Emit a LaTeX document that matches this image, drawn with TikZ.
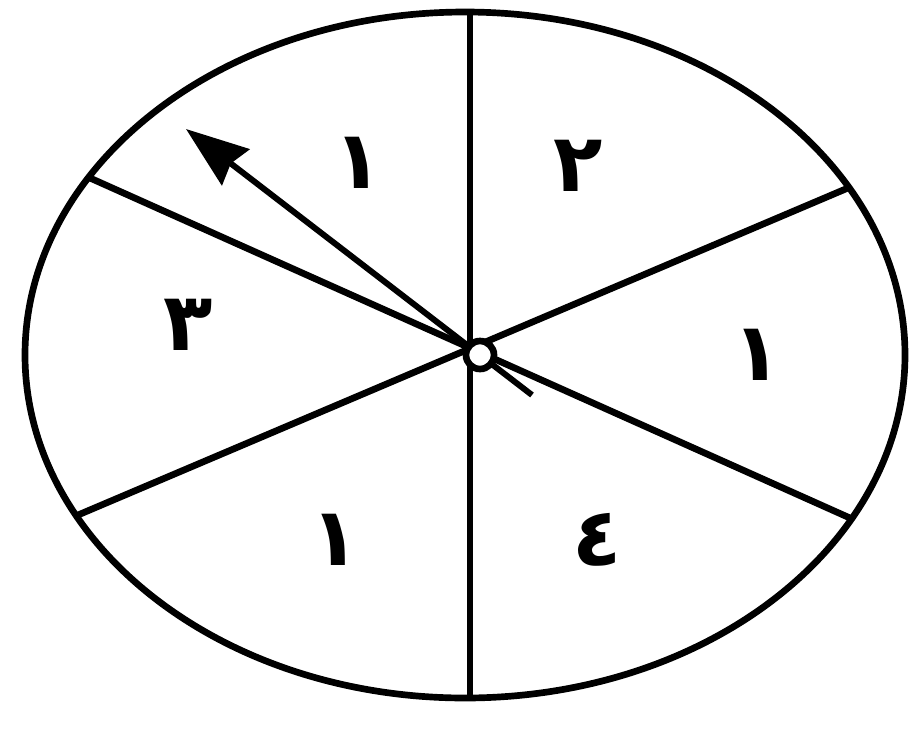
\documentclass[tikz,border=0pt]{standalone}
\usepackage{fontspec}
\usepackage{tikz}
\usetikzlibrary{arrows.meta}
\newfontfamily\arabicfont[Script=Arabic]{DejaVu Sans}
\TeXXeTstate=1

\begin{document}
\begin{tikzpicture}[x=0.02cm, y=-0.02cm, line width=3.8pt,
    every node/.style={font=\arabicfont\bfseries\fontsize{46}{46}\selectfont, inner sep=0pt}]
				\useasboundingbox (0,0) rectangle (914,728);
				\coordinate (hub) at (480,355);
				\draw (465,355) ellipse [x radius=440, y radius=343];

				% spokes
				\draw (470,12) -- (470,698);
				\draw (90,178) -- (850,518);
				\draw (78,515) -- (848,188);

				% pointer
				\coordinate (tail) at (532,395);
				\coordinate (tip) at (186,129);
				\draw[line width=3.4pt, -{Stealth[length=1.25cm, width=0.9cm, inset=0.12cm]}] (tail) -- (tip);
				\draw[fill=white] (hub) circle [radius=14];

				\node (top1) at (358,163) {١};
				\node (two) at (578,166) {٢};
				\node (three) at (188,325) {٣};
				\node (right1) at (757,355) {١};
				\node (bot1) at (335,540) {١};
				\node (four) at (597,540) {٤};
			\end{tikzpicture}
\end{document}
